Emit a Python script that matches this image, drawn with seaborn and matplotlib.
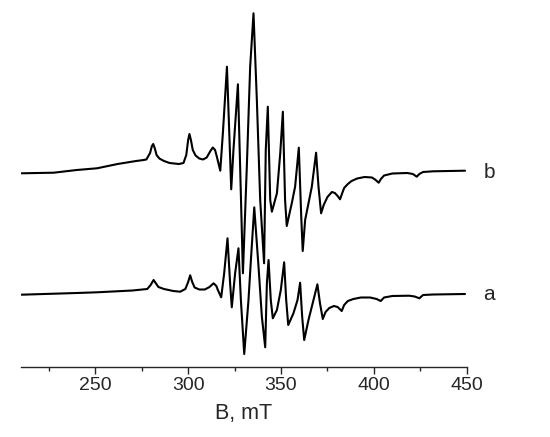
import matplotlib

matplotlib.use("Agg")
import matplotlib.pyplot as plt
import numpy as np
import pandas as pd
import seaborn as sns
from matplotlib.ticker import MultipleLocator

# EPR spectra: field (mT) and derivative signal (a.u.)
field_b = [210.2, 227.6, 240.0, 250.9, 262.0, 272.0, 276.0, 277.5, 279.5, 280.5,
           281.2, 282.0, 283.0, 284.5, 287.0, 290.0, 295.0, 297.5, 299.0, 300.0,
           300.7, 301.5, 302.5, 304.0, 306.0, 308.0, 310.0, 312.0, 313.3, 314.5,
           315.5, 317.3, 318.7, 320.9, 322.6, 323.2, 324.4, 326.8, 328.0, 329.5,
           331.6, 333.4, 335.2, 337.0, 338.8, 340.9, 341.8, 342.9, 344.2, 345.1,
           347.8, 349.6, 351.0, 352.2, 353.1, 355.8, 357.6, 359.6, 360.9, 361.7,
           363.0, 366.6, 368.9, 370.2, 371.6, 373.0, 375.0, 377.4, 379.0, 380.5,
           381.8, 382.8, 384.0, 386.0, 388.0, 391.0, 395.0, 399.0, 401.0, 402.6,
           403.8, 405.5, 410.0, 418.0, 421.0, 423.1, 424.5, 426.5, 432.0, 449.1]
signal_b = [-0.3, 0.3, 3, 4.7, 9, 12, 13, 13.5, 20, 27,
            29, 25, 18, 14.5, 12, 10, 9, 10, 18, 33,
            39, 33, 23, 17.5, 14.5, 13.5, 15.5, 22, 25.5, 23,
            16, 2.3, 39.7, 106.3, 16.3, -16.3, 23, 88.7, 6.3, -100.3,
            6.3, 106.3, 159.7, 73, -27, -90.3, 23, 66.3, -27, -38.7,
            -20.3, 19.7, 61.3, -27, -53, -30.3, -13.7, 25.3, -43.7, -78,
            -47, -13.7, 20.3, -13.7, -40.3, -32, -24, -19, -20, -23,
            -26.3, -21, -15, -11, -8, -5.5, -4, -4.5, -7, -9.7,
            -6, -2.5, -0.5, 0, -1, -3.7, -1, 1, 1.7, 2.3]

field_a = [210.2, 240.0, 250.9, 270.0, 278.0, 279.8, 281.4, 282.5, 284.0, 287.0,
           292.0, 295.7, 298.5, 300.0, 301.1, 302.2, 303.5, 306.0, 309.0, 311.5,
           313.7, 315.2, 316.0, 317.8, 319.4, 321.2, 322.6, 323.5, 325.3, 327.1,
           328.4, 330.2, 332.5, 333.8, 335.6, 337.9, 339.7, 341.5, 342.4, 343.3,
           344.5, 345.6, 347.8, 349.9, 351.7, 352.8, 353.9, 356.7, 358.9, 360.3,
           361.4, 362.5, 364.8, 367.5, 369.6, 371.0, 372.5, 374.0, 376.0, 378.5,
           380.5, 382.7, 384.0, 386.0, 389.0, 393.0, 398.0, 401.5, 403.7, 405.5,
           410.0, 419.0, 422.0, 424.5, 426.5, 432.0, 449.1]
signal_a = [0.3, 2, 2.7, 4.5, 6, 10, 15, 12, 8, 6,
            4, 3.3, 6, 13, 19.7, 13, 7.5, 5.5, 5.5, 8,
            11.7, 9, 5, -2.3, 21.7, 56.7, 11.7, -12.3, 21.7, 46.7,
            -5, -59, -5, 35, 87.7, 28.3, -21.7, -52.3, 11.7, 35,
            -5, -23.3, -15, 5, 32.7, -5, -30, -18.3, -5, 12.3,
            -21.7, -45, -25, -5, 10.7, -8.3, -24, -17, -13, -11,
            -12, -16, -10, -6, -4, -2.5, -2.5, -4, -6, -2.5,
            -1, -0.7, -1.5, -3.3, 0, 0.5, 1]

offset_b = 122  # vertical stacking of trace b above trace a

df = pd.concat([
    pd.DataFrame({"B": field_a, "signal": signal_a, "trace": "a"}),
    pd.DataFrame({"B": field_b, "signal": np.array(signal_b) + offset_b, "trace": "b"}),
])

sns.set_style("white")
plt.rcParams["font.family"] = ["Liberation Sans", "DejaVu Sans"]

fig = plt.figure(figsize=(5.5, 4.37), dpi=100)
ax = fig.add_axes([21 / 550, 1 - 367 / 437, 445.7 / 550, 367 / 437])

sns.lineplot(data=df, x="B", y="signal", units="trace", estimator=None,
             color="black", linewidth=1.5, ax=ax)
for line in ax.lines:
    line.set_solid_joinstyle("round")

ax.set_xlim(210, 450)
ax.set_ylim(-72, 295)
for side in ["left", "right", "top"]:
    ax.spines[side].set_visible(False)
ax.spines["bottom"].set_linewidth(1.0)
ax.set_yticks([])
ax.set_ylabel("")
ax.xaxis.set_major_locator(MultipleLocator(50))
ax.xaxis.set_minor_locator(MultipleLocator(25))
ax.tick_params(axis="x", which="major", direction="out", length=5, width=1,
               labelsize=14, pad=2, bottom=True)
ax.tick_params(axis="x", which="minor", direction="out", length=3, width=1,
               bottom=True)
ax.set_xlabel("B, mT", fontsize=15.5, labelpad=7)

ax.text(462, offset_b + 1, "b", fontsize=15, ha="center", va="center", clip_on=False)
ax.text(462, 1, "a", fontsize=15, ha="center", va="center", clip_on=False)

fig.savefig("out.png", dpi=100)
